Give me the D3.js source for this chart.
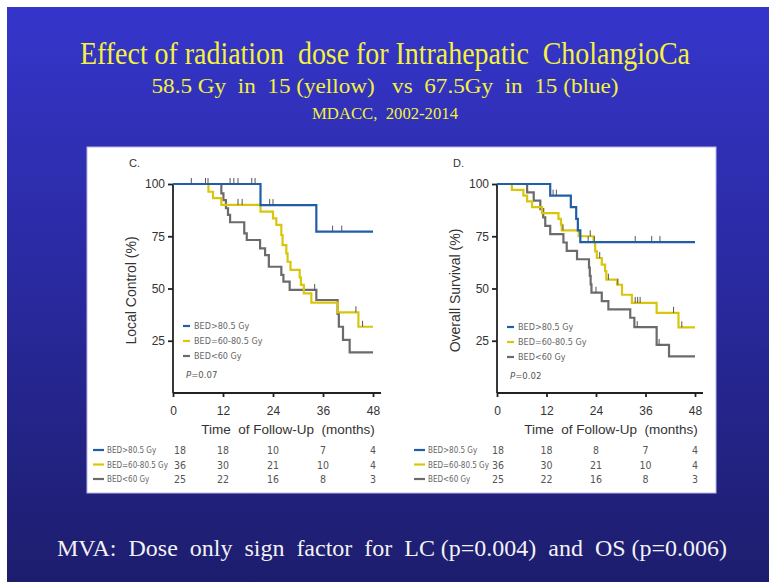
<!DOCTYPE html>
<html>
<head>
<meta charset="utf-8">
<script src="https://cdn.jsdelivr.net/npm/d3@7"></script>
<style>
  html, body { margin: 0; padding: 0; background: #ffffff; }
  svg { display: block; }
</style>
</head>
<body>
<svg id="slide" width="769" height="582"></svg>
<script>
// ---- data ----
var months = [0, 12, 24, 36, 48];
var yTicks = [25, 50, 75, 100];
var groupNames = ["BED>80.5 Gy", "BED=60-80.5 Gy", "BED<60 Gy"];
var groupColors = ["#1f5ea8", "#d9c60c", "#6b6b6b"];

// local control (panel C) - [month, percent] at each drop
var lcHigh = [[0,100],[21,89.9],[34.4,77.2]];
var lcMid = [[0,100],[8.5,96.3],[9.6,93.2],[11.6,90],[21,86.8],[24,83.6],[24.8,80.4],[26,75.6],[26.3,70.8],
             [27.2,66.8],[27.5,62.8],[28.2,58.9],[30.4,55.3],[30.7,51.7],[31.4,47.7],[33.2,43.2],[39.5,38.6],[44.5,31.7]];
var lcLow = [[0,100],[11.6,95.5],[12.1,92.3],[12.7,88.4],[13.2,85.2],[13.7,81.7],[17.1,76.4],[17.7,73.2],[20.9,69.2],
             [22.1,66],[23,60.4],[26,56.5],[26.5,53.3],[28,49.3],[34.4,44.5],[39.5,37.8],[39.8,31.7],[40.8,25.4],[42.4,19.4]];
var lcHighCens = [4.4, 7.8, 8.4, 13.7, 14.6, 15.6, 18.9, 19.7, 23.2, 24, 38.3, 40.5];
var lcMidCens = [15.6, 16.6, 43.9, 45.5];
var lcLowCens = [34.0];

// overall survival (panel D)
var osHigh = [[0,100],[12.9,94.4],[17.9,88.9],[19.2,83.3],[19.6,77.8],[20.2,72.2]];
var osMid = [[0,100],[3.6,97.2],[6.4,94.4],[7.3,91.7],[8.5,88.9],[10.9,86.1],[14.9,83.3],[15.5,80.6],[15.7,77.8],
             [19.8,75],[23.4,72.2],[23.8,67.8],[24.2,64.6],[25.4,61.4],[26.2,58.3],[26.5,54.2],[29.1,51.8],
             [30.3,47],[32.7,43.1],[38.7,38.3],[44,31.4]];
var osLow = [[0,100],[7.3,96],[8.9,92],[10.5,88],[11.2,84],[11.7,80],[12.9,76],[16.1,72],[16.9,68],[19.4,64],
             [22.3,60],[22.5,56],[22.7,52],[22.9,48],[25.4,44],[27,40],[32.3,36],[33.3,31.5],[38.7,23],[41.7,17.5]];
var osHighCens = [13.6, 14.4, 22.1, 33.5, 37.5, 39.5];
var osMidCens = [16, 22.6, 23.6, 24.9, 27, 29.3, 33.5, 34.1, 34.7, 42.8, 44.8];
var osLowCens = [24, 34, 39.3];

// numbers at risk
var lcRisk = [[18, 18, 10, 7, 4], [36, 30, 21, 10, 4], [25, 22, 16, 8, 3]];
var osRisk = [[18, 18, 8, 7, 4], [36, 30, 21, 10, 4], [25, 22, 16, 8, 3]];

var titleLines = ["Effect of radiation  dose for Intrahepatic  CholangioCa",
                  "58.5 Gy  in  15 (yellow)   vs  67.5Gy  in  15 (blue)",
                  "MDACC,  2002-2014"];
var footNote = "MVA:  Dose  only  sign  factor  for  LC (p=0.004)  and  OS (p=0.006)";

// ---- drawing ----
var svg = d3.select("#slide");
var narrow = "'Liberation Sans Narrow','DejaVu Sans Condensed',sans-serif";
var sans = "'Liberation Sans',Arial,sans-serif";
var serif = "'Liberation Serif','Times New Roman',serif";

var defs = svg.append("defs");
var grad = defs.append("linearGradient").attr("id", "bg").attr("x1", 0).attr("y1", 0).attr("x2", 0).attr("y2", 1);
grad.append("stop").attr("offset", "0%").attr("stop-color", "#3535cc");
grad.append("stop").attr("offset", "100%").attr("stop-color", "#1d1d6e");

svg.append("rect").attr("x", 7).attr("y", 7).attr("width", 762).attr("height", 575).attr("fill", "url(#bg)");

// title block
var titleSpec = [{y: 64, size: 31, len: 610}, {y: 93, size: 22, len: 467}, {y: 119, size: 16, len: 146}];
titleLines.forEach(function(t, i) {
    svg.append("text")
        .attr("x", 385).attr("y", titleSpec[i].y)
        .attr("text-anchor", "middle")
        .attr("textLength", titleSpec[i].len)
        .attr("lengthAdjust", "spacingAndGlyphs")
        .style("white-space", "pre")
        .style("font-family", serif)
        .style("font-size", titleSpec[i].size + "px")
        .style("fill", "#f4f23c")
        .text(t);
});

svg.append("text")
    .attr("x", 392).attr("y", 556)
    .attr("text-anchor", "middle")
    .attr("textLength", 670)
    .attr("lengthAdjust", "spacingAndGlyphs")
    .style("white-space", "pre")
    .style("font-family", serif)
    .style("font-size", "24px")
    .style("fill", "#f2f2f2")
    .text(footNote);

// white panel holding both plots
svg.append("rect").attr("x", 87).attr("y", 147).attr("width", 629).attr("height", 346)
    .attr("fill", "#ffffff").attr("stroke", "#b9b6e8").attr("stroke-width", 1);

function drawPanel(opts) {
    var g = svg.append("g");
    var xScale = d3.scaleLinear().domain([0, 48]).range([opts.x0, opts.x1]);
    var yScale = d3.scaleLinear().domain([0, 100]).range([opts.yBottom, opts.yTop]);

    // axes
    var yAxis = g.append("g").attr("transform", "translate(" + opts.x0 + ",0)")
        .call(d3.axisLeft(yScale).tickValues(yTicks).tickSize(5).tickPadding(3));
    var xAxis = g.append("g").attr("transform", "translate(0," + opts.yBottom + ")")
        .call(d3.axisBottom(xScale).tickValues(months).tickSize(4).tickPadding(9));
    yAxis.select(".domain").attr("d", "M0," + yScale(0) + "V" + yScale(100));
    xAxis.select(".domain").attr("d", "M" + xScale(0) + ",0H" + (xScale(48) + 8));
    [xAxis, yAxis].forEach(function(a) {
        a.selectAll(".domain, line").attr("stroke", "#222").attr("stroke-width", 1.8);
        a.selectAll("text").style("font-family", sans).style("font-size", "12px").attr("fill", "#333");
    });

    g.append("text").attr("x", opts.x0 - 44).attr("y", opts.yTop - 17)
        .style("font-family", sans).style("font-size", "11px").attr("fill", "#333").text(opts.letter);

    g.append("text")
        .attr("transform", "translate(" + (opts.x0 - 37) + "," + ((yScale(0) + yScale(100)) / 2 + 2) + ") rotate(-90)")
        .attr("text-anchor", "middle")
        .style("font-family", sans).style("font-size", "14px").attr("fill", "#333")
        .text(opts.yLabel);

    g.append("text")
        .attr("x", (xScale(0) + xScale(48)) / 2 + 15).attr("y", opts.yBottom + 41)
        .attr("text-anchor", "middle")
        .style("white-space", "pre")
        .style("font-family", sans).style("font-size", "13.5px").attr("fill", "#333")
        .text("Time  of Follow-Up  (months)");

    // curves, low dose first so the blue ends up on top
    var line = d3.line()
        .x(function(d) { return xScale(d[0]); })
        .y(function(d) { return yScale(d[1]); })
        .curve(d3.curveStepAfter);

    [2, 1, 0].forEach(function(k) {
        var pts = opts.curves[k].slice();
        pts.push([48, pts[pts.length - 1][1]]);
        g.append("path").attr("d", line(pts))
            .attr("fill", "none").attr("stroke", groupColors[k]).attr("stroke-width", 2.2);

        // censor marks sit on whatever level the curve has at that time
        g.selectAll(null).data(opts.cens[k]).enter().append("line")
            .attr("x1", function(t) { return xScale(t); })
            .attr("x2", function(t) { return xScale(t); })
            .attr("y1", function(t) { return yScale(levelAt(opts.curves[k], t)); })
            .attr("y2", function(t) { return yScale(levelAt(opts.curves[k], t)) - 6; })
            .attr("stroke", "#555").attr("stroke-width", 1);
    });

    // legend inside the plot
    groupNames.forEach(function(name, k) {
        var yy = opts.legendY + k * 15;
        g.append("line").attr("x1", opts.x0 + 10).attr("x2", opts.x0 + 17).attr("y1", yy).attr("y2", yy)
            .attr("stroke", groupColors[k]).attr("stroke-width", 2.2);
        g.append("text").attr("x", opts.x0 + 21).attr("y", yy + 3)
            .style("font-family", narrow).style("font-size", "9px").attr("fill", "#666").text(name);
    });
    var pText = g.append("text").attr("x", opts.x0 + 13).attr("y", opts.legendY + 52)
        .style("font-family", narrow).style("font-size", "9.5px").attr("fill", "#555");
    pText.append("tspan").style("font-style", "italic").text("P");
    pText.append("tspan").text("=" + opts.p);

    // numbers at risk
    groupNames.forEach(function(name, k) {
        var yy = 450 + k * 14.5;
        g.append("line").attr("x1", opts.tableX).attr("x2", opts.tableX + 11).attr("y1", yy).attr("y2", yy)
            .attr("stroke", groupColors[k]).attr("stroke-width", 2.2);
        g.append("text").attr("x", opts.tableX + 14).attr("y", yy + 3)
            .style("font-family", narrow).style("font-size", "8px").attr("fill", "#666").text(name);
        g.selectAll(null).data(opts.risk[k]).enter().append("text")
            .attr("x", function(d, i) { return xScale(months[i]) + (i === 0 ? opts.firstColShift : 0); })
            .attr("y", yy + 4)
            .attr("text-anchor", "middle")
            .style("font-family", narrow).style("font-size", "10.5px").attr("fill", "#555")
            .text(function(d) { return d; });
    });
}

function levelAt(curve, t) {
    var v = curve[0][1];
    curve.forEach(function(p) { if (p[0] <= t) v = p[1]; });
    return v;
}

drawPanel({
    letter: "C.", yLabel: "Local Control (%)", p: "0.07",
    x0: 173, x1: 373, yTop: 184, yBottom: 393,
    curves: [lcHigh, lcMid, lcLow], cens: [lcHighCens, lcMidCens, lcLowCens],
    risk: lcRisk, legendY: 326, tableX: 93, firstColShift: 7
});

drawPanel({
    letter: "D.", yLabel: "Overall Survival (%)", p: "0.02",
    x0: 497, x1: 695, yTop: 184, yBottom: 393,
    curves: [osHigh, osMid, osLow], cens: [osHighCens, osMidCens, osLowCens],
    risk: osRisk, legendY: 327, tableX: 414, firstColShift: 1
});
</script>
</body>
</html>
